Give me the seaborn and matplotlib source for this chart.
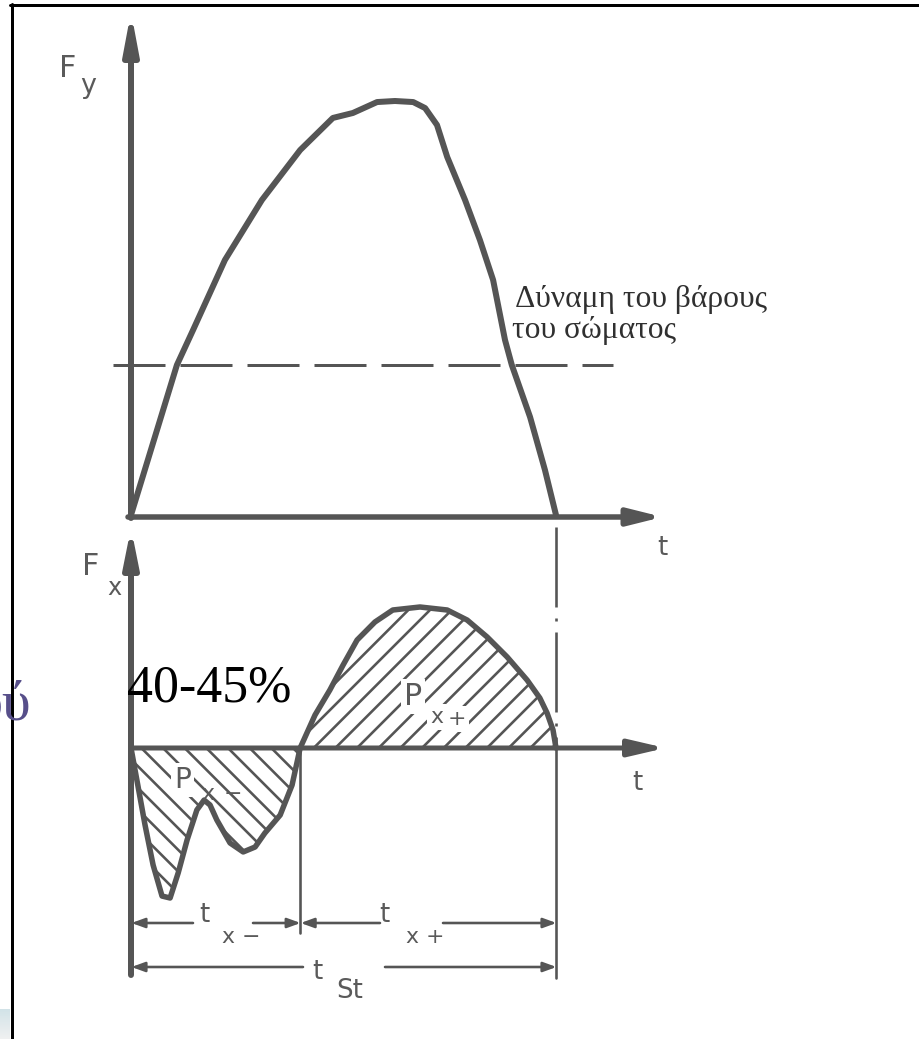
import matplotlib
matplotlib.use("Agg")
import matplotlib.pyplot as plt
from matplotlib.lines import Line2D
import numpy as np
import seaborn as sns

# ---------------------------------------------------------------------------
# Ground reaction forces during one stance phase
# time is normalised to the stance duration t_St, forces are in body weights
# ---------------------------------------------------------------------------
t_fy = [0.000, 0.108, 0.146, 0.221, 0.308, 0.398, 0.475, 0.522, 0.579, 0.621,
        0.664, 0.692, 0.720, 0.744, 0.786, 0.821, 0.852, 0.880, 0.896, 0.939,
        0.974, 1.000]
fy = [0.000, 1.000, 1.233, 1.700, 2.100, 2.433, 2.647, 2.680, 2.753, 2.760,
      2.753, 2.713, 2.600, 2.387, 2.100, 1.833, 1.567, 1.167, 1.000, 0.653,
      0.300, 0.000]

# horizontal force, braking phase (negative impulse P_x-)
t_fx_neg = [0.000, 0.016, 0.033, 0.052, 0.073, 0.092, 0.111, 0.132, 0.155,
            0.172, 0.186, 0.202, 0.233, 0.264, 0.292, 0.315, 0.351, 0.379,
            0.398]
fx_neg = [0.000, -0.247, -0.513, -0.780, -0.987, -1.000, -0.833, -0.613,
          -0.413, -0.347, -0.380, -0.480, -0.633, -0.693, -0.660, -0.567,
          -0.447, -0.247, 0.000]

# horizontal force, propulsive phase (positive impulse P_x+)
t_fx_pos = [0.398, 0.433, 0.468, 0.499, 0.532, 0.574, 0.616, 0.680, 0.744,
            0.791, 0.838, 0.885, 0.932, 0.962, 0.979, 0.993, 1.000]
fx_pos = [0.000, 0.220, 0.387, 0.553, 0.720, 0.840, 0.920, 0.940, 0.920,
          0.853, 0.740, 0.607, 0.453, 0.333, 0.233, 0.120, 0.000]

body_weight = 1.0      # dashed reference level
t_switch = 0.398       # end of braking phase (t_x-)
t_stance = 1.0         # total stance time t_St

weight_label = ["Δύναμη του βάρους", "του σώματος"]
share_label = "40-45%"

# ---------------------------------------------------------------------------
# layout (pixels)
# ---------------------------------------------------------------------------
W, H, DPI = 919, 1039, 130
X0, SX = 131, 425          # t = 0 position and pixels per stance time
SY = 150                   # pixels per body weight
Y0_TOP, Y0_BOT = 515, 748  # force zero lines of the two panels

INK = "#555555"
TXT = "#5a5a5a"


def pt(px):
    return px * 72.0 / DPI


sns.set_theme(style="white")
plt.rcParams["font.family"] = ["DejaVu Sans"]
plt.rcParams["lines.scale_dashes"] = False
plt.rcParams["hatch.linewidth"] = pt(2.6)
plt.rcParams["hatch.color"] = INK

fig = plt.figure(figsize=(W / DPI, H / DPI), dpi=DPI)
fig.patch.set_facecolor("white")


def make_axes(y0_px):
    ax = fig.add_axes([0, 0, 1, 1])
    ax.set_xlim(-X0 / SX, (W - X0) / SX)
    ax.set_ylim((y0_px - H) / SY, y0_px / SY)
    ax.set_axis_off()
    ax.patch.set_alpha(0)
    return ax


def arrow(ax, start, end, lw_px, hl_px, hw_px):
    """Filled arrow whose stroked tip lands on `end` (sizes in pixels)."""
    # the arrow style pulls its wedge back so a mitred outline would end at
    # the tip; with round joins we push the end point forward by the excess
    half = np.arctan2(hw_px, hl_px)
    extra = 0.5 * lw_px * (1.0 / np.sin(half) - 1.0)
    dx = (end[0] - start[0]) * SX
    dy = (end[1] - start[1]) * SY
    n = np.hypot(dx, dy)
    end = (end[0] + extra * dx / n / SX, end[1] + extra * dy / n / SY)
    ax.annotate("", xy=end, xytext=start, xycoords="data", textcoords="data",
                annotation_clip=False,
                arrowprops=dict(arrowstyle=f"-|>,head_length={pt(hl_px)},head_width={pt(hw_px)}",
                                lw=pt(lw_px), color=INK, shrinkA=0, shrinkB=0,
                                mutation_scale=1, joinstyle="round"))


def label(x, y, s, size, color=TXT, family=None, ha="left", box=False, **kw):
    props = dict(fontsize=pt(size), color=color, ha=ha, va="baseline", **kw)
    if family:
        props["family"] = family
    if box:
        props["bbox"] = dict(facecolor="white", edgecolor="none", pad=1.5)
    fig.text(x / W, 1 - y / H, s, **props)


ax_top = make_axes(Y0_TOP)
ax_bot = make_axes(Y0_BOT)

# ---------------------------- vertical force -------------------------------
arrow(ax_top, (0, -3 / SY), (0, (Y0_TOP - 25) / SY), 6, 32, 6)
arrow(ax_top, (-3 / SX, -2 / SY), ((654 - X0) / SX, -2 / SY), 5.5, 28, 7)

ax_top.plot([(113 - X0) / SX, (613 - X0) / SX], [body_weight, body_weight],
            color=INK, lw=pt(3), dashes=(pt(52), pt(15)), dash_capstyle="butt",
            zorder=2)

sns.lineplot(x=t_fy, y=fy, ax=ax_top, sort=False, estimator=None, color=INK,
             lw=pt(6), solid_joinstyle="round", solid_capstyle="round", zorder=4)

# --------------------------- horizontal force ------------------------------
ax_bot.fill_between(t_fx_neg, fx_neg, 0, facecolor="none", edgecolor=INK,
                    hatch="\\\\", linewidth=0, zorder=1)
ax_bot.fill_between(t_fx_pos, fx_pos, 0, facecolor="none", edgecolor=INK,
                    hatch="//", linewidth=0, zorder=1)

arrow(ax_bot, (0, (Y0_BOT - 975) / SY), (0, (Y0_BOT - 540) / SY), 6, 30, 6)
arrow(ax_bot, (0, 0), ((657 - X0) / SX, 0), 5, 30, 7)

sns.lineplot(x=t_fx_neg, y=fx_neg, ax=ax_bot, sort=False, estimator=None,
             color=INK, lw=pt(5.5), solid_joinstyle="round",
             solid_capstyle="round", zorder=4)
sns.lineplot(x=t_fx_pos, y=fx_pos, ax=ax_bot, sort=False, estimator=None,
             color=INK, lw=pt(5.5), solid_joinstyle="round",
             solid_capstyle="round", zorder=4)

# end of stance carried down from the upper panel
ax_bot.plot([t_stance, t_stance], [(Y0_BOT - 527) / SY, 0.03], color=INK,
            lw=pt(2.6), dashes=(pt(80), pt(11), pt(3), pt(11)),
            dash_capstyle="butt", zorder=3)

# boundaries of the phases below the time axis
ax_bot.plot([t_switch, t_switch], [0, (Y0_BOT - 933) / SY], color=INK,
            lw=pt(2.6), zorder=3)
ax_bot.plot([t_stance, t_stance], [0, (Y0_BOT - 978) / SY], color=INK,
            lw=pt(2.6), zorder=3)

# dimension lines t_x-, t_x+ and t_St
y_dim1 = (Y0_BOT - 923) / SY
y_dim2 = (Y0_BOT - 967) / SY
for y, t_from, t_to, gap_a, gap_b in [
        (y_dim1, 0.0, t_switch, 193, 253),
        (y_dim1, t_switch, t_stance, 380, 443),
        (y_dim2, 0.0, t_stance, 303, 385)]:
    arrow(ax_bot, ((gap_a - X0) / SX, y), (t_from + 3 / SX, y), 2.6, 11, 4)
    arrow(ax_bot, ((gap_b - X0) / SX, y), (t_to - 2 / SX, y), 2.6, 11, 4)

# ------------------------------- labels ------------------------------------
label(59, 77, "F", 30)
label(80, 93, "y", 27)
label(82, 575, "F", 30)
label(107, 595, "x", 24)
label(657, 555, "t", 26)
label(632, 790, "t", 26)

label(404, 705, "P", 30, box=True)
label(430, 723, "x", 22, box=True)
label(448, 725, "+", 22, box=True)
label(174, 788, "P", 28, box=True)
label(201, 800, "x", 22)
label(224, 800, "−", 22)

label(199, 922, "t", 26)
label(222, 943, "x −", 22)
label(379, 922, "t", 26)
label(406, 943, "x +", 22)
label(312, 979, "t", 26)
label(336, 998, "St", 26)

label(515, 307, weight_label[0], 31.5, color="#303030", family="Liberation Serif")
label(512, 338, weight_label[1], 31.5, color="#303030", family="Liberation Serif")

label(127, 702, share_label, 52, color="black", family="Liberation Serif")
label(31, 720, "ού", 58, color="#574f8a", family="Liberation Serif", ha="right")

# page frame
fig.add_artist(Line2D([11.5 / W, 11.5 / W], [0, 1 - 4 / H], color="black",
                      lw=pt(3), transform=fig.transFigure))
fig.add_artist(Line2D([10 / W, 1], [1 - 5 / H, 1 - 5 / H], color="black",
                      lw=pt(3), transform=fig.transFigure))

# faint tint in the lower-left corner
tint = fig.add_axes([0, 0, 10 / W, 30 / H])
grad = np.linspace(0, 1, 30)[::-1, None] * np.ones((1, 10))
tint.imshow(grad, cmap=sns.light_palette("#c6dde4", as_cmap=True),
            aspect="auto", origin="upper", vmin=0, vmax=1.4)
tint.set_axis_off()

fig.savefig("out.png", dpi=DPI, facecolor="white")
